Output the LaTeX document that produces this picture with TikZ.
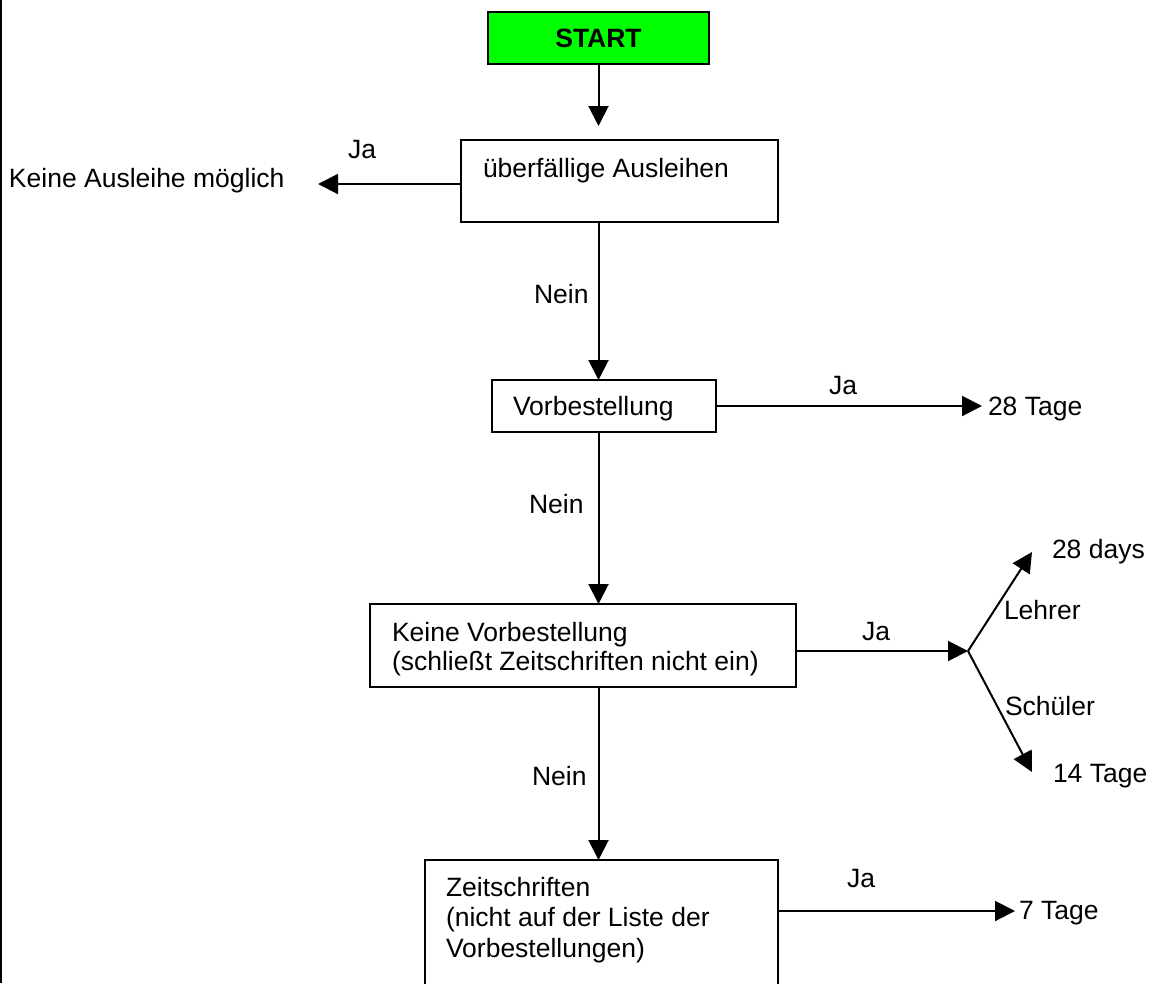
\documentclass[tikz,border=0pt]{standalone}
\usepackage{fontspec}
\setmainfont{Liberation Sans}
\usetikzlibrary{arrows.meta}
\definecolor{startgreen}{RGB}{0,255,0}
\begin{document}
\begin{tikzpicture}[x=1pt,y=-1pt,
  every node/.style={inner sep=0pt,outer sep=0pt},
  box/.style={draw=black,line width=2pt,rectangle},
  lbl/.style={anchor=base west,font=\fontsize{26.5}{29.5}\selectfont,align=left},
  conn/.style={line width=2pt,-{Triangle[length=20pt,width=20pt]}}]
\useasboundingbox (0,0) rectangle (1154,983);
\clip (0,0) rectangle (1154,983);
\fill[white] (0,0) rectangle (1154,983);
% left border
\draw[line width=2pt] (1,0) -- (1,983);
% boxes
\node[box,fill=startgreen,minimum width=221pt,minimum height=52pt] (start) at (598.5,38) {};
\node[anchor=base,font=\fontsize{26.5}{29.5}\selectfont\bfseries] (starttxt) at (598.5,47) {START};
\node[box,minimum width=317pt,minimum height=82pt] (b1) at (619.5,181) {};
\node[box,minimum width=224pt,minimum height=52pt] (b2) at (604,406) {};
\node[box,minimum width=426pt,minimum height=83pt] (b3) at (583,645.5) {};
\node[box,minimum width=353pt,minimum height=140pt] (b4) at (601.5,930) {};
% box texts (multi-line nodes anchored at the baseline of their last line)
\node[lbl] (t1) at (483,177) {überfällige Ausleihen};
\node[lbl] (t2) at (513,415) {Vorbestellung};
\node[lbl,font=\fontsize{26.5}{28.5}\selectfont] (t3) at (392,670) {Keine Vorbestellung\\(schließt Zeitschriften nicht ein)};
\node[lbl,font=\fontsize{26.5}{30.5}\selectfont] (t4) at (446,957) {Zeitschriften\\(nicht auf der Liste der\\Vorbestellungen)};
% outcome texts
\node[lbl] (o1) at (9,187) {Keine Ausleihe möglich};
\node[lbl] (o2) at (988,415) {28 Tage};
\node[lbl] (o3a) at (1052,558) {28 days};
\node[lbl] (o3b) at (1053,782) {14 Tage};
\node[lbl] (o4) at (1019,919) {7 Tage};
% edge labels
\node[lbl] (ja1) at (348,158) {Ja};
\node[lbl] (ja2) at (829,394) {Ja};
\node[lbl] (ja3) at (862,640) {Ja};
\node[lbl] (ja4) at (847,887) {Ja};
\node[lbl] (n1) at (534,303) {Nein};
\node[lbl] (n2) at (529,513) {Nein};
\node[lbl] (n3) at (532,785) {Nein};
\node[lbl] (le) at (1004,619) {Lehrer};
\node[lbl] (sc) at (1005,715) {Schüler};
% coordinates for free ends
\coordinate (kL) at (318,184);
\coordinate (k2) at (982,406);
\coordinate (J) at (968,651);
\coordinate (jU) at (1032,552);
\coordinate (jD) at (1032,772);
\coordinate (k4) at (1015,911);
% vertical connectors
\draw[conn] (start.south) -- ([yshift=14pt]start.south |- b1.north);
\draw[conn] (start.south |- b1.south) -- (start.south |- b2.north);
\draw[conn] (start.south |- b2.south) -- (start.south |- b3.north);
\draw[conn] (start.south |- b3.south) -- (start.south |- b4.north);
% horizontal connectors
\draw[conn] (b1.west |- kL) -- (kL);
\draw[conn] (b2.east |- k2) -- (k2);
\draw[conn] (b3.east |- J) -- (J);
\draw[conn] (J) -- (jU);
\draw[conn] (J) -- (jD);
\draw[conn] (b4.east |- k4) -- (k4);
\end{tikzpicture}
\end{document}
